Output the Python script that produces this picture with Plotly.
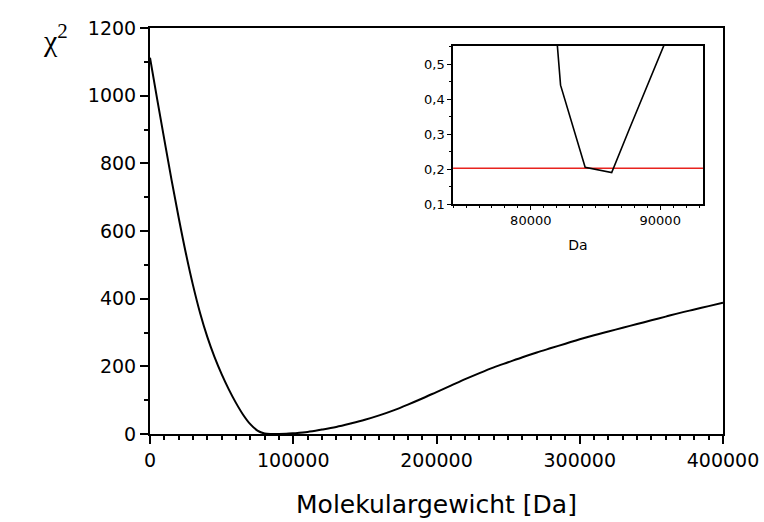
import plotly.graph_objects as go

# Main curve: chi^2 vs molecular weight
mw = [0, 5000, 10000, 15000, 20000, 25000, 30000, 35000, 40000, 45000,
      50000, 55000, 60000, 65000, 70000, 75000, 80000, 85000, 90000, 95000,
      100000, 110000, 120000, 130000, 140000, 150000, 160000, 170000, 180000, 190000,
      200000, 210000, 220000, 230000, 240000, 250000, 260000, 270000, 280000, 290000,
      300000, 310000, 320000, 330000, 340000, 350000, 360000, 370000, 380000, 390000,
      400000]
chi2 = [1112, 990, 870, 752, 640, 535, 440, 357, 287, 228,
        177, 132, 92, 57, 29, 10, 1.5, 0, 0, 0.5,
        2, 6, 13, 21, 31, 42, 55, 70, 87, 105,
        124, 143, 162, 180, 197, 212, 227, 241, 254, 267,
        280, 292, 303, 314, 325, 336, 347, 358, 368, 378,
        388]

# Inset: zoom around the minimum
inset_da = [81950, 82300, 84200, 86250, 87600, 90800]
inset_chi2 = [0.60, 0.44, 0.205, 0.19, 0.313, 0.60]
threshold = 0.202

main_xticks = [0, 100000, 200000, 300000, 400000]
main_xlabels = ["0", "100000", "200000", "300000", "400000"]
main_yticks = [0, 200, 400, 600, 800, 1000, 1200]
main_ylabels = ["0", "200", "400", "600", "800", "1000", "1200"]
inset_xticks = [80000, 90000]
inset_xlabels = ["80000", "90000"]
inset_yticks = [0.1, 0.2, 0.3, 0.4, 0.5]
inset_ylabels = ["0,1", "0,2", "0,3", "0,4", "0,5"]

FONT = "DejaVu Sans"

fig = go.Figure()
fig.add_trace(go.Scatter(x=mw, y=chi2, mode="lines",
                         line=dict(color="black", width=2, shape="spline", smoothing=1.0),
                         xaxis="x", yaxis="y", showlegend=False, hoverinfo="skip"))
fig.add_trace(go.Scatter(x=[74000, 93300], y=[threshold, threshold], mode="lines",
                         line=dict(color="#e8231e", width=1.5),
                         xaxis="x2", yaxis="y2", showlegend=False, hoverinfo="skip"))
fig.add_trace(go.Scatter(x=inset_da, y=inset_chi2, mode="lines",
                         line=dict(color="black", width=1.6),
                         xaxis="x2", yaxis="y2", showlegend=False, hoverinfo="skip"))

axis_common = dict(showgrid=False, zeroline=False, showline=True, linecolor="black",
                   mirror=True, ticks="outside", tickcolor="black", automargin=False)

fig.update_layout(
    width=764, height=522,
    margin=dict(l=150, r=41, t=28, b=88),
    paper_bgcolor="white", plot_bgcolor="white",
    font=dict(family=FONT, color="black"),
    xaxis=dict(**axis_common, domain=[0, 1], range=[0, 400000],
               tickvals=main_xticks, ticktext=main_xlabels,
               ticklen=8, tickwidth=2, linewidth=2,
               tickfont=dict(size=19, family=FONT),
               minor=dict(dtick=10000, ticklen=4, tickwidth=1.5, ticks="outside", tickcolor="black"),
               title=dict(text="Molekulargewicht [Da]", font=dict(size=25, family=FONT), standoff=26)),
    yaxis=dict(**axis_common, domain=[0, 1], range=[0, 1200],
               tickvals=main_yticks, ticktext=main_ylabels,
               ticklen=8, tickwidth=2, linewidth=2,
               tickfont=dict(size=19, family=FONT),
               minor=dict(dtick=100, ticklen=4, tickwidth=1.5, ticks="outside", tickcolor="black")),
    xaxis2=dict(**axis_common, domain=[0.529, 0.965], range=[74000, 93300], anchor="y2",
                tickvals=inset_xticks, ticktext=inset_xlabels,
                ticklen=4, tickwidth=1.2, linewidth=1.5,
                tickfont=dict(size=13, family=FONT),
                minor=dict(dtick=1000, ticklen=2.5, tickwidth=1, ticks="outside", tickcolor="black"),
                title=dict(text="Da", font=dict(size=14, family=FONT), standoff=13)),
    yaxis2=dict(**axis_common, domain=[0.5665, 0.9557], range=[0.1, 0.552], anchor="x2",
                tickvals=inset_yticks, ticktext=inset_ylabels,
                ticklen=4, tickwidth=1.2, linewidth=1.5,
                tickfont=dict(size=13, family=FONT),
                minor=dict(dtick=0.05, ticklen=2.5, tickwidth=1, ticks="outside", tickcolor="black")),
    annotations=[dict(text="χ<sup>2</sup>", xref="paper", yref="paper", x=-0.165, y=0.975,
                      xanchor="center", yanchor="middle", showarrow=False,
                      font=dict(family="Liberation Serif", size=30, color="black"))],
)

fig.write_html("out.html")
